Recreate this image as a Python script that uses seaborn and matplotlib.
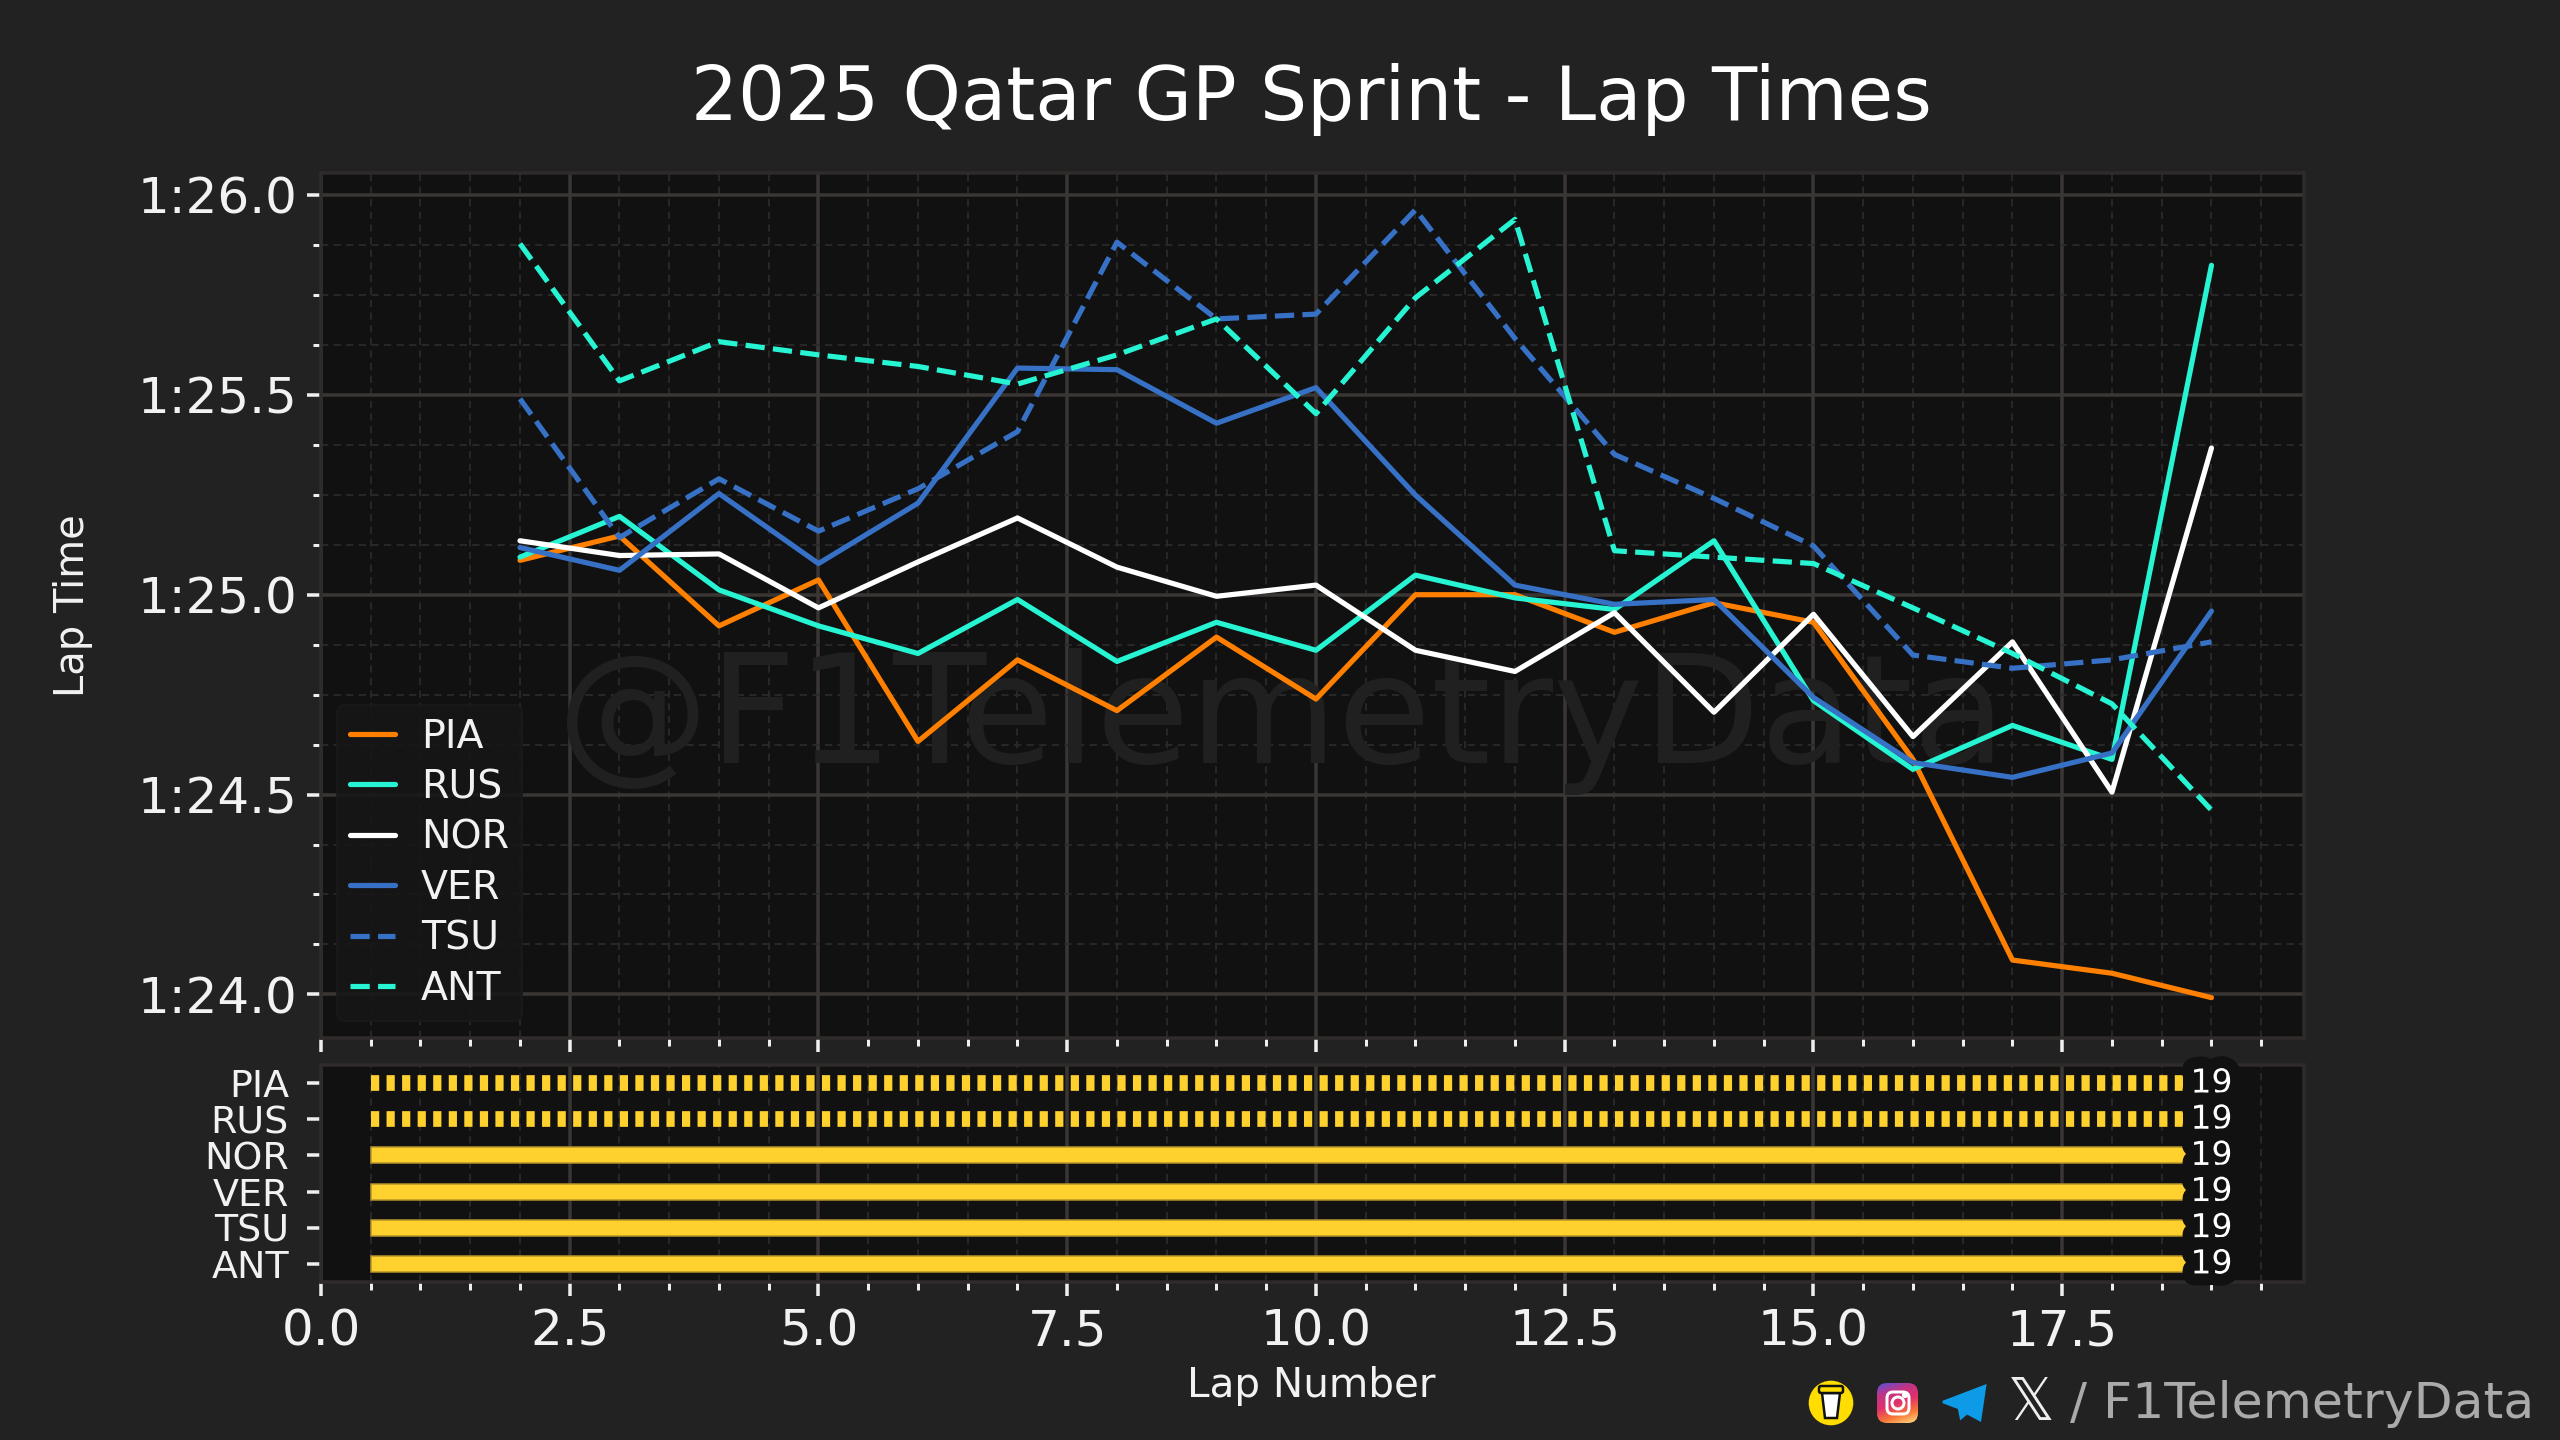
import matplotlib
matplotlib.use("Agg")
import matplotlib.pyplot as plt
import matplotlib.patheffects as pe
from matplotlib.colors import LinearSegmentedColormap
from matplotlib.patches import Circle, FancyBboxPatch, Polygon
from matplotlib.ticker import FuncFormatter, MultipleLocator, AutoMinorLocator
import numpy as np
import pandas as pd
import seaborn as sns

laps = list(range(2, 20))
PIA = [85.086, 85.147, 84.922, 85.037, 84.633, 84.837, 84.71, 84.894, 84.739, 85.0, 85.0, 84.906, 84.98, 84.931, 84.588, 84.086, 84.053, 83.992]
RUS = [85.094, 85.196, 85.012, 84.922, 84.853, 84.988, 84.833, 84.931, 84.861, 85.049, 84.992, 84.963, 85.135, 84.735, 84.563, 84.673, 84.588, 85.824]
NOR = [85.135, 85.098, 85.102, 84.967, 85.082, 85.192, 85.069, 84.996, 85.024, 84.861, 84.808, 84.955, 84.706, 84.951, 84.645, 84.882, 84.506, 85.367]
VER = [85.118, 85.061, 85.253, 85.078, 85.229, 85.567, 85.563, 85.429, 85.518, 85.249, 85.024, 84.976, 84.988, 84.743, 84.58, 84.543, 84.604, 84.959]
TSU = [85.49, 85.143, 85.29, 85.159, 85.265, 85.408, 85.882, 85.69, 85.702, 85.963, 85.641, 85.351, 85.241, 85.122, 84.849, 84.816, 84.837, 84.882]
ANT = [85.878, 85.535, 85.633, 85.6, 85.571, 85.527, 85.6, 85.69, 85.453, 85.743, 85.939, 85.11, 85.094, 85.078, 84.967, 84.853, 84.727, 84.461]
drivers = ["PIA", "RUS", "NOR", "VER", "TSU", "ANT"]
colors = ["#FF8000", "#27F4D2", "#FFFFFF", "#3671C6", "#3671C6", "#27F4D2"]
dashed = ["TSU", "ANT"]
stint_start = 0.5
stint_laps = [18.5, 18.5, 18.5, 18.5, 18.5, 18.5]
stint_end_labels = [19, 19, 19, 19, 19, 19]
hatched = ["PIA", "RUS"]

series = dict(zip(drivers, [PIA, RUS, NOR, VER, TSU, ANT]))
df = pd.DataFrame([{"Lap": l, "Time": t, "Driver": d}
                   for d in drivers for l, t in zip(laps, series[d])])

W, H, DPI = 2560, 1440, 187
BG, PANEL, SPINE = "#222222", "#111111", "#2E2B2A"
YELLOW = "#FFD12E"
FONT = "DejaVu Sans"
sns.set_theme(style="dark")
plt.rcParams.update({"font.family": [FONT], "axes.facecolor": PANEL, "figure.facecolor": BG})


def px(v):
    return v * 72 / DPI


fig = plt.figure(figsize=(W / DPI, H / DPI), dpi=DPI, facecolor=BG)
L, R = 321, 2304
ax = fig.add_axes([L / W, 1 - 1038 / H, (R - L) / W, (1038 - 173) / H], facecolor=PANEL)
ax2 = fig.add_axes([L / W, 1 - 1282 / H, (R - L) / W, (1282 - 1065) / H], facecolor=PANEL)

palette = dict(zip(drivers, colors))
dashes = {d: (3.7, 1.6) if d in dashed else "" for d in drivers}
sns.lineplot(data=df, x="Lap", y="Time", hue="Driver", style="Driver", hue_order=drivers,
             style_order=drivers, palette=palette, dashes=dashes, linewidth=px(5.2),
             errorbar=None, ax=ax, zorder=3)
ax.set_xlim(0, 19.93)
ax.set_ylim(83.891, 86.055)
ax.yaxis.set_major_locator(MultipleLocator(0.5))
ax.yaxis.set_minor_locator(AutoMinorLocator(4))
ax.yaxis.set_major_formatter(FuncFormatter(lambda v, _: f"{int(v // 60)}:{v % 60:04.1f}"))

sdf = pd.DataFrame({"Driver": drivers, "Laps": stint_laps})
sns.barplot(data=sdf, x="Laps", y="Driver", order=drivers, color=YELLOW, orient="y",
            left=stint_start, width=0.44, saturation=1, edgecolor="#B8962A", linewidth=px(1.5),
            ax=ax2, zorder=3)
BAR_PX = 15.7
for patch, d, n in zip(ax2.patches, drivers, stint_laps):
    if d in hatched:
        patch.set_visible(False)
        ax2.hlines(d, stint_start, stint_start + n, color=YELLOW, linewidth=px(BAR_PX),
                   linestyles=[(0, (8.2 / BAR_PX, 7.35 / BAR_PX))], capstyle="butt", zorder=3)
for i, (n, end) in enumerate(zip(stint_end_labels, stint_laps)):
    ax2.text(stint_start + end, i, str(n), color="white", ha="center", va="center",
             fontsize=px(33), zorder=5,
             path_effects=[pe.withStroke(linewidth=px(24), foreground=PANEL)])
ax2.set_xlim(0, 19.93)
ax2.set_ylim(5.5, -0.5)

for a in (ax, ax2):
    a.xaxis.set_major_locator(MultipleLocator(2.5))
    a.xaxis.set_minor_locator(MultipleLocator(0.5))
    a.grid(True, which="major", color="#393634", linewidth=px(3.5), linestyle="-", zorder=0)
    a.grid(True, which="minor", color="#2A2A2A", linewidth=px(1.8), linestyle=(0, (4, 3)), zorder=0)
    a.set_axisbelow(True)
    for s in a.spines.values():
        s.set_visible(True)
        s.set_color(SPINE)
        s.set_linewidth(px(3.5))
    a.tick_params(which="major", length=px(14), width=px(3.5), color="#EEEEEE", labelcolor="#F2F2F2",
                  left=True, bottom=True, pad=px(12))
    a.tick_params(which="minor", length=px(8), width=px(3), color="#EEEEEE", left=True, bottom=True)
    a.set_xlabel("")
    a.set_ylabel("")
ax2.grid(False, axis="y", which="both")
ax2.tick_params(axis="y", which="minor", left=False)
ax.tick_params(axis="x", labelbottom=False)
ax.tick_params(axis="y", which="major", labelsize=px(50), pad=px(10))
ax2.tick_params(axis="x", which="major", labelsize=px(50))
ax2.tick_params(axis="y", which="major", labelsize=px(38), pad=px(18))

handles, labels = ax.get_legend_handles_labels()
leg = ax.legend(handles, labels, loc="lower left", fontsize=px(39.5), frameon=True, facecolor="#161616",
                edgecolor="#1A1A1A", framealpha=0.85, labelcolor="#F2F2F2", title=None,
                handlelength=1.15, handletextpad=0.65, labelspacing=0.315, borderpad=0.33,
                borderaxespad=0)
leg.set_bbox_to_anchor(((337 - L) / (R - L), (1038 - 1021) / 865), transform=ax.transAxes)
leg.get_frame().set_linewidth(px(2))
leg.set_zorder(4)

ax.text(0.4846, 0.366, "@F1TelemetryData", transform=ax.transAxes, ha="center", va="center",
        fontsize=px(152), color="#202020", zorder=1)

fig.text(1311 / W, 1 - 100 / H, "2025 Qatar GP Sprint - Lap Times", color="white",
         ha="center", va="center", fontsize=px(74))
fig.text(1311 / W, 1 - 1386 / H, "Lap Number", color="#F2F2F2", ha="center", va="center", fontsize=px(40.5))
fig.text(73 / W, 1 - 606 / H, "Lap Time", color="#F2F2F2", ha="center", va="center",
         rotation=90, fontsize=px(40))
fig.text(2534 / W, 1 - 1404 / H, "/ F1TelemetryData", color="#AAAAAA", ha="right", va="center", fontsize=px(50.5))
fig.text(2031 / W, 1 - 1404 / H, "\U0001D54F", color="#EEEEEE", ha="center", va="center", fontsize=px(58))

# social icons in the footer, placed in pixel coordinates
bg = fig.add_axes([0, 0, 1, 1], facecolor="none", zorder=10)
bg.axis("off")
bg.add_patch(Circle((1831, 1403), 21, color="#FFDD00"))
bg.add_patch(Polygon([[1822, 1393], [1840, 1393], [1837, 1418], [1825, 1418]],
                     fc="white", ec="#111111", lw=px(2.5)))
bg.add_patch(FancyBboxPatch((1820, 1387), 22, 5, boxstyle="round,pad=1,rounding_size=2",
                            fc="#FFDD00", ec="#111111", lw=px(2.5)))
insta = LinearSegmentedColormap.from_list("insta", ["#5B51D8", "#C13584", "#E1306C", "#F77737", "#FFDC80"])
box = FancyBboxPatch((1879, 1385), 37, 36, boxstyle="round,pad=2,rounding_size=10",
                     fc="none", ec="none")
bg.add_patch(box)
grad = np.add.outer(np.linspace(0, 1, 40), np.linspace(0, 0.35, 40)) / 1.35
im = bg.imshow(grad, extent=(1877, 1918, 1423, 1383), cmap=insta, aspect="auto", zorder=1)
im.set_clip_path(box)
bg.add_patch(FancyBboxPatch((1887, 1392), 22, 22, boxstyle="round,pad=0,rounding_size=6",
                            fc="none", ec="white", lw=px(3), zorder=2))
bg.add_patch(Circle((1898, 1403), 6, fill=False, ec="white", lw=px(3), zorder=2))
bg.add_patch(Circle((1905, 1395), 1.8, color="white", zorder=2))
bg.add_patch(Polygon([[1943, 1402], [1985, 1386], [1980, 1420], [1967, 1413], [1961, 1418], [1959, 1408]],
                     color="#0D9BE8"))
bg.set_xlim(0, W)
bg.set_ylim(H, 0)

fig.savefig("out.png", dpi=DPI, facecolor=BG)
